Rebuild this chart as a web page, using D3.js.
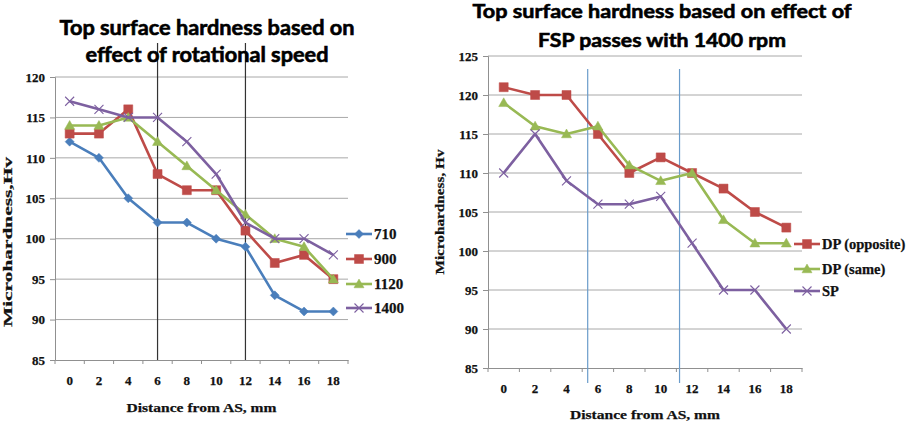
<!DOCTYPE html>
<html>
<head>
<meta charset="utf-8">
<script src="https://cdn.jsdelivr.net/npm/d3@7"></script>
<style>
  html, body { margin: 0; padding: 0; background: #fff; }
  svg { display: block; }
</style>
</head>
<body>
<svg id="chart" width="916" height="428"></svg>
<script>
// ---------- DATA ----------
const distances = [0, 2, 4, 6, 8, 10, 12, 14, 16, 18];

// Left chart: effect of rotational speed
const leftTitle = ["Top surface hardness based on", "effect of rotational speed"];
const leftSeriesNames = ["710", "900", "1120", "1400"];
const s710  = [112, 110, 105, 102, 102, 100, 99, 93, 91, 91];
const s900  = [113, 113, 116, 108, 106, 106, 101, 97, 98, 95];
const s1120 = [114, 114, 115, 112, 109, 106, 103, 100, 99, 95];
const s1400 = [117, 116, 115, 115, 112, 108, 102, 100, 100, 98];
const leftYTicks = [85, 90, 95, 100, 105, 110, 115, 120];
const leftMarkLines = [6, 12];

// Right chart: effect of FSP passes with 1400 rpm
const rightTitle = ["Top surface hardness based on effect of", "FSP passes with 1400 rpm"];
const rightSeriesNames = ["DP (opposite)", "DP (same)", "SP"];
const dpOpposite = [121, 120, 120, 115, 110, 112, 110, 108, 105, 103];
const dpSame     = [119, 116, 115, 116, 111, 109, 110, 104, 101, 101];
const sp         = [110, 115, 109, 106, 106, 107, 101, 95, 95, 90];
const rightYTicks = [85, 90, 95, 100, 105, 110, 115, 120, 125];
const rightMarkLines = [5.35, 11.2];

const yTitle = ["Microhardness,Hv", "Microhardness, Hv"];
const xTitle = "Distance from AS, mm";

// ---------- STYLE ----------
const COLORS = { blue: "#4a7ebb", red: "#be4b48", green: "#98b954", purple: "#7d60a0" };
const SERIF = "'Liberation Serif', 'DejaVu Serif', serif";
const TITLEFONT = "Lato, 'Open Sans', sans-serif";

const svg = d3.select("#chart");

function markerPath(type, cx, cy) {
  const p = d3.path();
  if (type === "diamond") {
    const r = 4.5;
    p.moveTo(cx, cy - r); p.lineTo(cx + r, cy); p.lineTo(cx, cy + r); p.lineTo(cx - r, cy); p.closePath();
  } else if (type === "square") {
    const r = 4.5;
    p.rect(cx - r, cy - r, 2 * r, 2 * r);
  } else if (type === "triangle") {
    const r = 5;
    p.moveTo(cx, cy - r); p.lineTo(cx + r, cy + r * 0.75); p.lineTo(cx - r, cy + r * 0.75); p.closePath();
  } else if (type === "x") {
    const r = 4.5;
    p.moveTo(cx - r, cy - r); p.lineTo(cx + r, cy + r);
    p.moveTo(cx + r, cy - r); p.lineTo(cx - r, cy + r);
  }
  return p.toString();
}

function drawMarker(g, type, color, cx, cy) {
  const filled = type !== "x";
  g.append("path")
    .attr("d", markerPath(type, cx, cy))
    .attr("fill", filled ? color : "none")
    .attr("stroke", color)
    .attr("stroke-width", filled ? 0.5 : 1.1);
}

function boldText(sel, size) {
  return sel.attr("font-family", SERIF).attr("font-weight", "bold")
    .attr("font-size", size).attr("fill", "#111")
    .attr("stroke", "#111").attr("stroke-width", 0.25);
}

function drawChart(cfg) {
  const g = svg.append("g");
  const x = d3.scaleBand().domain(distances).range([cfg.x0, cfg.x1]);
  const y = d3.scaleLinear().domain([cfg.yMin, cfg.yMax]).range([cfg.yBottom, cfg.yTop]);
  const bw = x.bandwidth();
  const xc = d => x(d) + bw / 2;
  const xLin = d3.scaleLinear().domain([0, 18]).range([xc(0), xc(18)]);

  // gridlines
  g.append("g").selectAll("line").data(cfg.yTicks.filter(t => t !== cfg.yMin)).join("line")
    .attr("x1", cfg.x0).attr("x2", cfg.x1)
    .attr("y1", d => y(d)).attr("y2", d => y(d))
    .attr("stroke", "#a8a8a8").attr("stroke-width", 1);

  // y axis
  const yAxis = d3.axisLeft(y).tickValues(cfg.yTicks).tickSize(5).tickPadding(5);
  const ya = g.append("g").attr("transform", `translate(${cfg.x0},0)`).call(yAxis);
  ya.select(".domain").attr("stroke", "#909090");
  ya.selectAll(".tick line").attr("stroke", "#909090");
  boldText(ya.selectAll(".tick text"), 13);

  // x axis
  const xAxis = d3.axisBottom(x).tickSize(0).tickPadding(cfg.xTickPad);
  const xa = g.append("g").attr("transform", `translate(0,${cfg.yBottom})`).call(xAxis);
  xa.select(".domain").attr("stroke", "#909090");
  boldText(xa.selectAll(".tick text"), 13);
  // category boundary ticks
  const bounds = distances.map(d => x(d)).concat([cfg.x1]);
  g.append("g").selectAll("line").data(bounds).join("line")
    .attr("x1", d => d).attr("x2", d => d)
    .attr("y1", cfg.yBottom).attr("y2", cfg.yBottom + 4)
    .attr("stroke", "#909090");

  // vertical marker lines
  g.append("g").selectAll("line").data(cfg.markLines).join("line")
    .attr("x1", d => xLin(d)).attr("x2", d => xLin(d))
    .attr("y1", cfg.markTop).attr("y2", cfg.markBottom)
    .attr("stroke", cfg.markColor).attr("stroke-width", 1.2);

  // series
  const line = d3.line().x((d, i) => xc(distances[i])).y(d => y(d));
  cfg.series.forEach(s => {
    g.append("path").datum(s.values).attr("d", line)
      .attr("fill", "none").attr("stroke", s.color).attr("stroke-width", 2.6)
      .attr("stroke-linejoin", "round");
    s.values.forEach((v, i) => drawMarker(g, s.marker, s.color, xc(distances[i]), y(v)));
  });

  // legend
  cfg.series.forEach((s, i) => {
    const ly = cfg.legendY[i];
    g.append("line").attr("x1", cfg.legendX).attr("x2", cfg.legendX + 26)
      .attr("y1", ly).attr("y2", ly).attr("stroke", s.color).attr("stroke-width", 2.6);
    drawMarker(g, s.marker, s.color, cfg.legendX + 13, ly);
    boldText(g.append("text").attr("x", cfg.legendX + 28).attr("y", ly + 5), cfg.legendFont)
      .text(s.name);
  });

  // title
  cfg.title.forEach((t, i) => {
    g.append("text").attr("x", cfg.titleX).attr("y", cfg.titleY[i])
      .attr("text-anchor", "middle").attr("font-family", TITLEFONT).attr("font-weight", "bold")
      .attr("font-size", cfg.titleFont).attr("fill", "#000")
      .attr("stroke", "#000").attr("stroke-width", 0.6)
      .attr("textLength", cfg.titleLen[i]).attr("lengthAdjust", "spacingAndGlyphs")
      .text(t);
  });

  // axis titles
  boldText(g.append("text").attr("x", (cfg.x0 + cfg.x1) / 2).attr("y", cfg.xTitleY)
    .attr("text-anchor", "middle"), 13.5)
    .attr("textLength", 150).attr("lengthAdjust", "spacingAndGlyphs").text(xTitle);
  boldText(g.append("text")
    .attr("transform", `translate(${cfg.yTitleX},${cfg.yTitleY}) rotate(-90)`)
    .attr("text-anchor", "middle"), 13.5)
    .attr("textLength", cfg.yTitleLen).attr("lengthAdjust", "spacingAndGlyphs").text(cfg.yTitle);
}

drawChart({
  x0: 55, x1: 348, yTop: 77, yBottom: 360, yMin: 85, yMax: 120,
  yTicks: leftYTicks, xTickPad: 16,
  markLines: leftMarkLines, markTop: 43, markBottom: 360, markColor: "#333",
  series: [
    { name: leftSeriesNames[0], values: s710, color: COLORS.blue, marker: "diamond" },
    { name: leftSeriesNames[1], values: s900, color: COLORS.red, marker: "square" },
    { name: leftSeriesNames[2], values: s1120, color: COLORS.green, marker: "triangle" },
    { name: leftSeriesNames[3], values: s1400, color: COLORS.purple, marker: "x" }
  ],
  legendX: 346, legendY: [234, 259, 284, 308], legendFont: 15,
  title: leftTitle, titleX: 207, titleY: [35, 62], titleFont: 21, titleLen: [295, 243],
  xTitleY: 412, yTitle: yTitle[0], yTitleX: 12, yTitleY: 242, yTitleLen: 170
});

drawChart({
  x0: 488, x1: 802, yTop: 56, yBottom: 368, yMin: 85, yMax: 125,
  yTicks: rightYTicks, xTickPad: 16,
  markLines: rightMarkLines, markTop: 69, markBottom: 383, markColor: "#6a9ccb",
  series: [
    { name: rightSeriesNames[0], values: dpOpposite, color: COLORS.red, marker: "square" },
    { name: rightSeriesNames[1], values: dpSame, color: COLORS.green, marker: "triangle" },
    { name: rightSeriesNames[2], values: sp, color: COLORS.purple, marker: "x" }
  ],
  legendX: 794, legendY: [244, 269, 291], legendFont: 14.5,
  title: rightTitle, titleX: 662, titleY: [18, 47], titleFont: 19, titleLen: [379, 248],
  xTitleY: 419, yTitle: yTitle[1], yTitleX: 444, yTitleY: 212, yTitleLen: 125
});
</script>
</body>
</html>
